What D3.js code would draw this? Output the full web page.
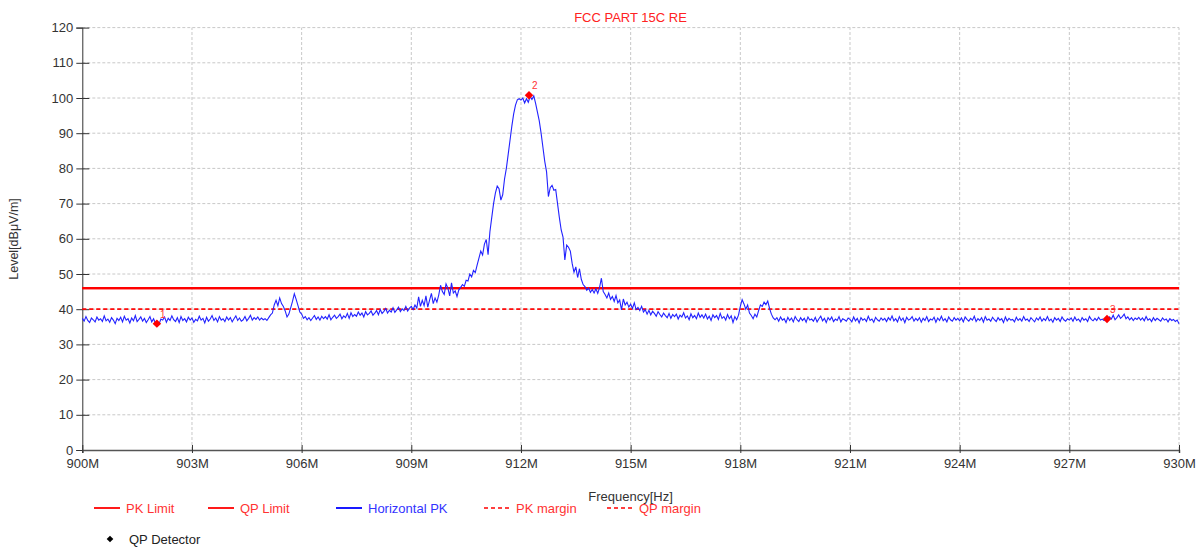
<!DOCTYPE html>
<html><head><meta charset="utf-8">
<script src="https://cdn.jsdelivr.net/npm/d3@7"></script>
<style>
html,body{margin:0;padding:0;background:#fff;}
svg{display:block;font-family:"Liberation Sans",Arial,sans-serif;}
</style></head>
<body><svg id="chart" width="1200" height="551"></svg>
<script>
// ---- data ----
const title = "FCC PART 15C RE";
const xTickValues = [900,903,906,909,912,915,918,921,924,927,930];
const xTickLabels = ["900M","903M","906M","909M","912M","915M","918M","921M","924M","927M","930M"];
const yTickValues = [0,10,20,30,40,50,60,70,80,90,100,110,120];
const sweepStart = 900, sweepStop = 930; // MHz, uniform sweep (0.05 MHz points)
const horizontalPK = [
// 900
37.4,36.6,37.9,36.8,36.2,37.5,37.0,36.4,37.8,36.9,
37.3,36.5,38.1,36.7,37.2,36.3,37.6,36.9,35.9,37.4,
// 901
36.8,37.7,36.4,38.0,36.9,37.3,36.1,37.5,36.7,38.2,
36.5,37.1,37.8,36.6,37.4,36.2,37.0,37.9,36.4,37.3,
// 902
36.0,36.6,35.8,37.2,36.9,37.8,36.3,37.4,36.8,38.1,
37.0,36.5,37.6,36.2,37.9,36.8,37.3,36.4,37.7,36.9,
// 903
37.5,36.3,37.1,36.7,38.0,36.9,37.4,36.1,37.7,36.6,
37.2,38.2,36.8,37.5,36.4,37.9,36.9,37.3,36.5,37.8,
// 904
36.9,37.6,36.4,37.3,38.1,36.8,37.5,36.6,37.0,37.9,
36.7,37.4,38.3,36.9,37.6,37.1,37.8,36.9,37.5,37.0,
// 905
37.3,36.8,37.6,38.4,38.9,41.2,42.5,41.0,43.2,41.6,
40.8,39.5,37.8,38.6,40.4,42.2,44.4,42.8,41.0,39.2,
// 906
38.6,37.4,37.9,37.0,37.6,36.8,37.5,38.2,37.1,37.8,
36.9,38.0,37.3,37.9,37.2,38.4,37.0,37.7,38.3,37.4,
// 907
37.9,38.6,37.3,38.1,37.6,38.8,37.4,39.0,37.9,38.5,
38.0,39.2,38.3,38.9,37.8,39.3,38.4,38.8,39.5,38.3,
// 908
38.9,39.6,38.4,39.9,38.8,39.4,40.2,38.9,39.7,39.2,
40.4,39.1,39.8,40.6,39.3,40.1,39.6,40.8,39.5,40.3,
// 909
40.8,39.9,41.2,40.3,43.5,40.8,42.5,41.0,43.8,40.6,
42.6,44.5,41.6,43.2,42.0,44.0,46.8,45.0,44.2,47.2,
// 910
46.0,43.8,47.5,44.6,45.2,43.6,45.5,46.2,47.0,46.5,
48.2,48.0,50.0,49.2,51.0,50.4,52.5,54.5,56.5,55.4,
// 911
58.5,59.8,55.5,62.0,66.0,70.0,73.0,75.0,74.2,71.0,
72.5,77.0,80.0,84.0,88.0,92.0,95.5,98.0,99.5,99.8,
// 912
99.4,100.0,98.6,99.8,98.8,100.4,99.6,100.6,98.5,96.0,
93.5,90.0,86.0,82.0,79.0,72.0,74.5,75.2,73.8,74.0,
// 913
70.0,66.0,62.5,60.5,54.0,58.2,57.6,56.5,53.0,50.5,
52.0,49.0,51.5,48.5,47.0,46.4,45.4,46.0,44.8,45.6,
// 914
44.6,45.8,44.5,46.2,48.8,45.0,44.2,43.2,44.6,42.8,
43.6,42.2,43.9,41.8,42.6,39.8,42.9,41.2,42.0,40.6,
// 915
41.4,40.2,41.8,39.9,40.5,39.6,40.8,39.2,39.9,38.6,
39.7,38.4,39.4,38.8,38.0,39.3,38.5,37.8,38.9,38.2,
// 916
37.6,38.8,37.4,38.5,37.9,38.6,37.2,38.3,37.8,39.0,
37.5,38.1,37.0,38.7,37.6,38.2,37.3,38.9,37.7,38.4,
// 917
37.5,38.6,37.2,38.0,36.8,38.4,37.6,38.2,37.1,38.8,
37.4,37.9,36.9,38.5,37.3,38.1,36.2,37.9,37.0,38.3,
// 918
40.8,42.7,41.5,40.0,41.2,38.9,38.2,37.3,38.6,37.8,
39.6,41.2,40.8,42.0,41.3,42.3,40.2,38.6,37.5,37.0,
// 919
37.6,36.6,37.8,36.9,37.3,36.2,37.7,36.8,37.5,36.4,
37.9,37.0,36.5,37.6,36.8,37.4,36.3,37.8,36.9,37.2,
// 920
36.6,37.7,36.4,37.3,38.0,36.7,37.4,36.2,37.6,36.9,
37.8,36.5,37.2,36.8,37.9,36.4,37.3,37.0,36.6,37.5,
// 921
37.1,36.4,37.8,36.7,37.4,36.1,37.6,36.9,37.3,36.5,
38.0,36.8,37.2,36.3,37.7,37.0,36.6,37.5,36.9,37.4,
// 922
36.5,37.6,36.9,38.1,36.7,37.3,36.4,37.9,36.8,37.5,
36.2,37.7,36.9,37.2,37.9,36.6,37.4,36.8,37.6,36.3,
// 923
37.4,36.8,37.9,36.5,37.2,36.9,37.7,36.3,37.5,36.8,
38.0,36.7,37.3,36.4,37.8,37.0,36.6,37.6,36.9,37.4,
// 924
36.7,37.5,36.4,37.8,37.1,36.6,37.4,36.9,38.0,36.5,
37.3,36.8,37.6,36.3,37.9,36.9,37.2,36.6,37.7,37.0,
// 925
36.5,37.6,36.9,37.3,36.2,37.8,36.7,37.4,36.9,37.1,
36.4,37.7,36.8,37.3,36.6,37.9,36.9,37.2,36.5,37.6,
// 926
37.0,36.4,37.5,36.9,37.8,36.6,37.3,36.8,37.9,36.7,
37.2,36.3,37.6,36.9,37.4,36.5,37.8,37.0,36.6,37.3,
// 927
36.9,37.5,36.6,37.8,36.8,37.2,36.4,37.6,36.9,37.3,
36.5,37.9,37.1,36.7,37.4,36.8,37.7,36.9,37.2,36.8,
// 928
37.3,36.9,37.8,37.2,38.3,37.0,37.6,38.4,37.4,37.9,
38.6,37.3,37.8,37.0,37.6,36.8,37.5,37.1,37.7,36.9,
// 929
37.5,36.7,37.9,36.9,37.3,36.5,37.6,36.8,37.4,37.0,
36.6,37.5,36.9,37.2,36.4,37.3,36.8,37.1,36.5,36.9,
// 930
35.9];
const pkLimit = 46, qpLimit = 46, pkMargin = 40, qpMargin = 40;
const markerFreq = [902.04, 912.22, 928.03];
const markerLevel = [35.9, 100.8, 37.2];
const markerLabel = ["1","2","3"];
const legendItems = ["PK Limit","QP Limit","Horizontal PK","PK margin","QP margin"];

// ---- chart ----
const svg = d3.select("#chart");
const x = d3.scaleLinear().domain([sweepStart, sweepStop]).range([82.3, 1179]);
const y = d3.scaleLinear().domain([0,120]).range([450, 27.6]);
const step = (sweepStop - sweepStart)/(horizontalPK.length-1);
const trace = horizontalPK.map((v,i)=>({f: sweepStart + i*step, v}));

// grid
const g = svg.append("g");
g.selectAll(".hg").data(yTickValues.filter(d=>d>0)).enter().append("line")
  .attr("x1", x(900)).attr("x2", x(930)).attr("y1", d=>y(d)).attr("y2", d=>y(d))
  .attr("stroke","#c8c8c8").attr("stroke-dasharray","3,2").attr("stroke-width",1);
g.selectAll(".vg").data(xTickValues.filter(d=>d>900)).enter().append("line")
  .attr("x1", d=>x(d)).attr("x2", d=>x(d)).attr("y1", y(0)).attr("y2", y(120))
  .attr("stroke","#c8c8c8").attr("stroke-dasharray","3,2").attr("stroke-width",1);

// axes
const yAxis = d3.axisLeft(y).tickValues(yTickValues).tickSizeOuter(0).tickSize(6).tickPadding(3);
const ya = svg.append("g").attr("transform",`translate(${x(900)},0)`).call(yAxis);
ya.select(".domain").attr("stroke","#333");
ya.selectAll(".tick line").attr("stroke","#333").attr("x2",-6).attr("x1",7);
ya.selectAll("text").attr("font-size","13px").attr("fill","#333").attr("font-family","Liberation Sans, Arial, sans-serif");

const xAxis = d3.axisBottom(x).tickValues(xTickValues).tickFormat((d,i)=>xTickLabels[i]).tickSizeOuter(0).tickSize(3).tickPadding(6);
const xa = svg.append("g").attr("transform",`translate(0,${y(0)})`).call(xAxis);
xa.select(".domain").attr("stroke","#555").attr("stroke-width",1.5);
xa.selectAll(".tick line").attr("stroke","#333").attr("y1",-5).attr("y2",3);
xa.selectAll("text").attr("font-size","13px").attr("fill","#333").attr("font-family","Liberation Sans, Arial, sans-serif");

// limit lines
svg.append("line").attr("x1",x(900)).attr("x2",x(930)).attr("y1",y(qpLimit)).attr("y2",y(qpLimit))
  .attr("stroke","#ff0000").attr("stroke-width",2.2);
svg.append("line").attr("x1",x(900)).attr("x2",x(930)).attr("y1",y(pkLimit)).attr("y2",y(pkLimit))
  .attr("stroke","#ff0000").attr("stroke-width",2.2);
svg.append("line").attr("x1",x(900)).attr("x2",x(930)).attr("y1",y(qpMargin)).attr("y2",y(qpMargin))
  .attr("stroke","#ff0000").attr("stroke-width",1.3).attr("stroke-dasharray","4,3");
svg.append("line").attr("x1",x(900)).attr("x2",x(930)).attr("y1",y(pkMargin)).attr("y2",y(pkMargin))
  .attr("stroke","#ff0000").attr("stroke-width",1.3).attr("stroke-dasharray","4,3");

// trace
svg.append("path").datum(trace)
  .attr("d", d3.line().x(d=>x(d.f)).y(d=>y(d.v)))
  .attr("fill","none").attr("stroke","#2222ff").attr("stroke-width",1.1);

// markers
const sym = d3.symbol().type(d3.symbolSquare).size(36);
markerFreq.forEach((f,i)=>{
  svg.append("path").attr("d",sym()).attr("transform",`translate(${x(f)},${y(markerLevel[i])}) rotate(45)`).attr("fill","#ff0000");
  svg.append("text").attr("x",x(f)+3).attr("y",y(markerLevel[i])-6).text(markerLabel[i])
    .attr("font-size","10px").attr("fill","#ff3333");
});

// titles
svg.append("text").attr("x",630.5).attr("y",22).attr("text-anchor","middle").text(title)
  .attr("font-size","13px").attr("fill","#ff2222");
svg.append("text").attr("transform","translate(18,239) rotate(-90)").attr("text-anchor","middle")
  .text("Level[dBμV/m]").attr("font-size","12.5px").attr("fill","#333");
svg.append("text").attr("x",630.5).attr("y",501).attr("text-anchor","middle").text("Frequency[Hz]")
  .attr("font-size","13px").attr("fill","#333");

// legend
const legX = [94, 208, 336, 484, 607];
const legColor = ["#ff0000","#ff0000","#0000ff","#ff0000","#ff0000"];
const legText = ["#ff3333","#ff3333","#3333ff","#ff3333","#ff3333"];
const legDash = [null,null,null,"4,3","4,3"];
legendItems.forEach((t,i)=>{
  const ly = 508;
  const ln = svg.append("line").attr("x1",legX[i]).attr("x2",legX[i]+26).attr("y1",ly).attr("y2",ly)
    .attr("stroke",legColor[i]).attr("stroke-width",legDash[i]?1.6:1.8);
  if(legDash[i]) ln.attr("stroke-dasharray",legDash[i]);
  svg.append("text").attr("x",legX[i]+32).attr("y",ly+4.5).text(t).attr("font-size","13px").attr("fill",legText[i]);
});
svg.append("path").attr("d",d3.symbol().type(d3.symbolSquare).size(22)()).attr("transform","translate(110,539) rotate(45)").attr("fill","#000");
svg.append("text").attr("x",129).attr("y",543.5).text("QP Detector").attr("font-size","13px").attr("fill","#222");
</script></body></html>
